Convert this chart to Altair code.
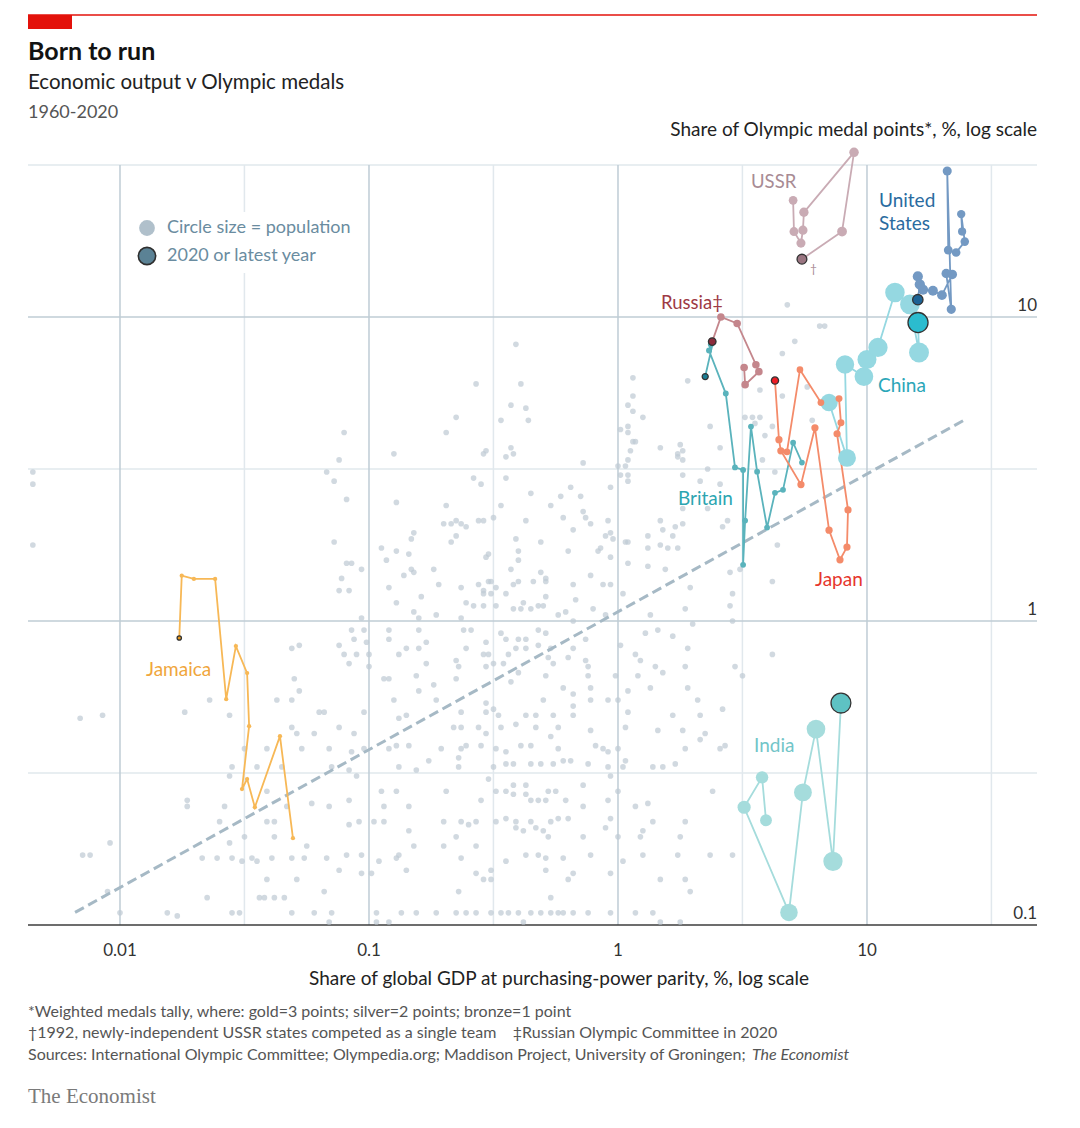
import altair as alt
import pandas as pd

# ---------------- background countries (log10 of % shares) ----------------
bg_far_left = [
    (-2.35, 0.49), (-2.35, 0.45), (-2.35, 0.25), (-2.16, -0.32), (-2.07, -0.31), (-1.64, -0.26), (-1.74, -0.30),
    (-1.56, -0.31), (-1.37, -0.26), (-1.31, -0.26), (-1.30, -0.19), (-1.31, -0.09), (-1.28, -0.08), (-1.73, -0.59),
    (-1.73, -0.61), (-1.58, -0.61), (-1.60, -0.66), (-1.56, -0.51), (-1.55, -0.48), (-1.45, -0.48), (-1.41, -0.42),
    (-1.50, -0.42), (-1.35, -0.48), (-1.31, -0.35), (-1.29, -0.37), (-1.50, -0.71), (-1.56, -0.73), (-1.38, -0.71),
    (-1.41, -0.66), (-1.38, -0.66), (-1.41, -0.56), (-1.33, -0.61), (-2.04, -0.73), (-2.15, -0.77), (-2.12, -0.77),
    (-1.67, -0.78), (-1.61, -0.78), (-1.55, -0.78), (-1.51, -0.79), (-1.47, -0.78), (-1.45, -0.79), (-1.39, -0.78),
    (-1.31, -0.78), (-1.41, -0.85), (-1.29, -0.85), (-2.05, -0.89), (-1.65, -0.91), (-1.44, -0.91), (-1.42, -0.91),
    (-1.38, -0.91), (-1.34, -0.91), (-1.81, -0.96), (-1.77, -0.97), (-2.00, -0.96), (-1.55, -0.96), (-1.52, -0.96),
    (-1.31, -0.96),
]
bg_left_upper = [
    (-1.10, 0.62), (-1.12, 0.53), (-1.17, 0.49), (-1.14, 0.46), (-1.09, 0.40), (-1.14, 0.26), (-1.09, 0.19),
    (-1.07, 0.19), (-1.03, 0.17), (-1.11, 0.14), (-1.12, 0.10), (-1.08, 0.10),
]
bg_mid_upper = [
    (-0.41, 0.91), (-0.57, 0.78), (-0.39, 0.78), (-0.43, 0.71), (-0.37, 0.70), (-0.65, 0.67), (-0.47, 0.66),
    (-0.36, 0.66), (-0.69, 0.62), (-0.90, 0.55), (-0.54, 0.55), (-0.53, 0.56), (-0.43, 0.57), (-0.42, 0.55),
    (-0.45, 0.54), (-0.14, 0.52), (0.06, 0.80), (0.06, 0.74), (0.04, 0.71), (0.06, 0.69), (0.10, 0.67),
    (0.01, 0.63), (0.04, 0.64), (0.04, 0.62), (0.06, 0.59), (0.07, 0.59), (0.05, 0.56), (0.04, 0.53),
    (0.00, 0.51), (0.03, 0.51), (0.01, 0.48), (0.04, 0.48), (0.04, 0.46), (0.17, 0.57), (0.24, 0.55),
    (0.24, 0.54), (-0.58, 0.47), (-0.55, 0.45), (-0.45, 0.47), (-0.35, 0.42), (-0.19, 0.44), (-0.03, 0.44),
    (-0.89, 0.39), (-0.69, 0.38), (-0.47, 0.38), (-0.27, 0.38), (-0.23, 0.41), (-0.15, 0.41), (-0.70, 0.32),
    (-0.67, 0.32), (-0.65, 0.33), (-0.63, 0.32), (-0.61, 0.31), (-0.56, 0.33), (-0.54, 0.33), (-0.50, 0.34),
    (-0.37, 0.33), (-0.22, 0.34), (-0.14, 0.36), (-0.13, 0.34), (-0.11, 0.32), (-0.04, 0.33), (-0.18, 0.30),
    (-0.03, 0.29), (-0.02, 0.27), (-0.05, 0.28), (-0.82, 0.29), (-0.83, 0.27), (-0.65, 0.28), (-0.67, 0.26),
    (-0.41, 0.27), (-0.31, 0.26), (-0.08, 0.23), (-0.07, 0.24), (0.03, 0.26), (0.04, 0.26), (-0.95, 0.24),
    (-0.89, 0.23), (-0.84, 0.22), (-0.93, 0.20), (-0.53, 0.21), (-0.52, 0.22), (-0.40, 0.23), (-0.20, 0.23),
    (-0.03, 0.21), (-0.40, 0.20), (-0.43, 0.17), (0.04, 0.19), (0.12, 0.28), (0.12, 0.24), (0.18, 0.30),
    (0.17, 0.33), (0.23, 0.31), (0.22, 0.28), (0.17, 0.25), (0.20, 0.24), (0.24, 0.24), (0.12, 0.18),
    (0.19, 0.17), (-0.83, 0.17), (-0.82, 0.16), (-0.86, 0.15), (-0.74, 0.17), (-0.31, 0.16), (-0.29, 0.14),
    (-0.29, 0.13), (-0.11, 0.15), (-0.72, 0.12), (-0.56, 0.12), (-0.63, 0.11), (-0.52, 0.13), (-0.51, 0.13),
    (-0.42, 0.12), (-0.40, 0.13), (-0.34, 0.13), (-0.18, 0.12), (-0.06, 0.12), (-0.03, 0.12), (-0.92, 0.11),
    (-0.49, 0.11), (-0.54, 0.10), (-0.54, 0.09), (-0.51, 0.09), (-0.45, 0.09), (-0.79, 0.08), (0.02, 0.09),
    (-0.29, 0.08),
]
bg_right_upper = [
    (0.68, 1.04), (0.81, 0.97), (0.83, 0.97), (0.71, 0.92), (0.66, 0.88), (0.57, 0.76), (0.66, 0.74),
    (0.76, 0.77), (0.28, 0.79), (0.37, 0.64), (0.51, 0.67), (0.54, 0.67), (0.57, 0.67), (0.55, 0.65),
    (0.62, 0.64), (0.59, 0.61), (0.78, 0.66), (0.25, 0.58), (0.26, 0.56), (0.26, 0.53), (0.36, 0.50),
    (0.41, 0.57), (0.58, 0.53), (0.63, 0.49), (0.33, 0.46), (0.41, 0.45), (0.26, 0.48), (0.26, 0.37),
    (0.36, 0.37), (0.44, 0.33), (0.42, 0.31), (0.26, 0.32), (0.64, 0.25), (0.45, 0.16), (0.49, 0.17),
    (0.62, 0.13), (0.29, 0.11), (0.46, 0.09),
]
bg_mid_lower = [
    (-0.89, 0.06), (-0.61, 0.06), (-0.58, 0.05), (-0.54, 0.05), (-0.49, 0.05), (-1.03, 0.01), (-0.82, 0.03),
    (-0.80, 0.01), (-0.73, 0.02), (-0.63, 0.01), (-0.42, 0.04), (-0.39, 0.04), (-0.38, 0.06), (-0.35, 0.04),
    (-0.32, 0.05), (-0.30, 0.05), (-0.24, 0.02), (-1.07, -0.03), (-1.02, -0.03), (-0.92, -0.03), (-0.80, -0.03),
    (-0.62, -0.03), (-0.59, -0.03), (-0.47, -0.04), (-0.45, -0.06), (-0.40, -0.06), (-0.37, -0.06), (-0.32, -0.03),
    (-0.29, -0.04), (-1.01, -0.07), (-1.06, -0.06), (-0.92, -0.06), (-0.77, -0.07), (-0.32, -0.08), (-0.27, -0.09),
    (-0.53, -0.07), (-1.12, -0.08), (-1.10, -0.11), (-1.05, -0.11), (-1.00, -0.11), (-1.08, -0.14), (-1.00, -0.15),
    (-0.88, -0.11), (-0.85, -0.09), (-0.80, -0.09), (-0.77, -0.14), (-0.65, -0.13), (-0.64, -0.15), (-0.61, -0.09),
    (-0.54, -0.11), (-0.52, -0.11), (-0.50, -0.14), (-0.53, -0.15), (-0.46, -0.14), (-0.44, -0.11), (-0.41, -0.09),
    (-0.37, -0.09), (-0.28, -0.12), (-0.26, -0.14), (-1.28, -0.23), (-0.92, -0.19), (-0.94, -0.19), (-0.81, -0.18),
    (-0.80, -0.23), (-0.74, -0.21), (-0.65, -0.19), (-0.40, -0.17), (-0.43, -0.20), (-0.29, -0.18), (-0.73, -0.26),
    (-0.90, -0.26), (-0.88, -0.32), (-0.85, -0.31), (-0.53, -0.27), (-0.50, -0.29), (-0.63, -0.30), (-0.53, -0.30),
    (-0.48, -0.31), (-0.37, -0.31), (-0.33, -0.31), (-0.30, -0.26), (-0.26, -0.31), (-1.20, -0.30), (-1.18, -0.30),
    (-1.02, -0.30), (-1.12, -0.35), (-1.06, -0.37), (-1.22, -0.37), (-0.66, -0.35), (-0.63, -0.35), (-0.56, -0.35),
    (-0.53, -0.37), (-0.47, -0.35), (-0.41, -0.34), (-0.33, -0.35), (-0.27, -0.38), (-0.24, -0.35), (-1.27, -0.42),
    (-1.16, -0.42), (-1.07, -0.43), (-1.02, -0.42), (-0.92, -0.42), (-0.89, -0.41), (-0.84, -0.41), (-0.71, -0.42),
    (-0.63, -0.42), (-0.61, -0.41), (-0.55, -0.41), (-0.49, -0.42), (-0.45, -0.43), (-0.39, -0.41), (-0.35, -0.41),
    (-0.24, -0.42), (-1.15, -0.48), (-1.08, -0.49), (-0.88, -0.48), (-0.81, -0.49), (-0.76, -0.46), (-0.64, -0.45),
    (-0.64, -0.48), (-0.50, -0.48), (-0.45, -0.47), (-0.42, -0.47), (-0.35, -0.47), (-0.31, -0.47), (-0.26, -0.47),
    (-1.05, -0.51), (-0.95, -0.56), (-0.89, -0.56), (-0.69, -0.56), (-0.52, -0.52), (-0.55, -0.59), (-0.49, -0.56),
    (-0.45, -0.56), (-0.42, -0.54), (-0.37, -0.54), (-0.42, -0.57), (-0.37, -0.57), (-0.35, -0.59), (-0.32, -0.59),
    (-0.29, -0.59), (-0.28, -0.56), (-0.25, -0.56), (-1.08, -0.59), (-1.16, -0.61), (-1.23, -0.60), (-0.94, -0.61),
    (-0.84, -0.61), (-1.08, -0.67), (-1.04, -0.66), (-0.98, -0.66), (-0.94, -0.66), (-0.70, -0.66), (-0.63, -0.66),
    (-0.60, -0.67), (-0.57, -0.66), (-0.49, -0.66), (-0.45, -0.65), (-0.41, -0.66), (-0.41, -0.68), (-0.38, -0.69),
    (-0.35, -0.66), (-0.33, -0.68), (-0.30, -0.69), (-0.27, -0.66), (-0.24, -0.65), (-0.28, -0.71), (-0.84, -0.69),
    (-0.65, -0.71), (-0.82, -0.74), (-0.70, -0.74), (-0.57, -0.74), (-1.25, -0.74), (-1.17, -0.78), (-1.26, -0.78),
    (-1.12, -0.82), (-1.09, -0.77), (-1.03, -0.77), (-1.03, -0.83), (-0.99, -0.83), (-0.96, -0.79), (-0.89, -0.78),
    (-0.88, -0.77), (-0.85, -0.82), (-0.63, -0.78), (-0.57, -0.83), (-0.54, -0.85), (-0.51, -0.85), (-0.51, -0.82),
    (-0.45, -0.79), (-0.37, -0.77), (-0.32, -0.77), (-0.29, -0.78), (-0.29, -0.82), (-1.18, -0.89), (-1.22, -0.96),
    (-1.15, -0.96), (-0.97, -0.96), (-0.92, -0.99), (-0.97, -0.99), (-0.87, -0.96), (-0.81, -0.96), (-0.73, -0.96),
    (-0.65, -0.96), (-0.64, -0.89), (-0.61, -0.96), (-0.57, -0.96), (-0.51, -0.96), (-0.47, -0.96), (-0.44, -0.96),
    (-0.40, -0.96), (-0.38, -0.99), (-0.35, -0.96), (-0.31, -0.96), (-0.27, -0.96), (-0.27, -0.91), (-0.24, -0.96),
    (-1.16, -0.99),
]
bg_right_lower = [
    (-0.17, 0.07), (-0.10, 0.04), (-0.21, 0.03), (-0.05, 0.02), (0.13, 0.02), (0.27, 0.04), (0.45, 0.05),
    (0.30, -0.01), (0.46, 0.00), (-0.18, 0.00), (0.11, -0.04), (0.16, -0.03), (0.22, -0.05), (0.28, -0.09),
    (0.07, -0.11), (0.09, -0.13), (0.01, -0.08), (-0.13, -0.06), (-0.18, -0.09), (-0.20, -0.12), (-0.13, -0.13),
    (-0.12, -0.15), (-0.12, -0.18), (-0.01, -0.18), (0.08, -0.18), (0.15, -0.15), (0.18, -0.17), (0.27, -0.15),
    (0.47, -0.15), (0.50, -0.18), (0.13, -0.22), (0.28, -0.22), (0.04, -0.23), (-0.11, -0.22), (-0.18, -0.24),
    (-0.22, -0.22), (-0.11, -0.26), (-0.04, -0.26), (0.00, -0.26), (0.32, -0.26), (0.42, -0.29), (-0.18, -0.28),
    (-0.18, -0.31), (0.04, -0.30), (0.22, -0.31), (0.33, -0.31), (-0.11, -0.36), (0.03, -0.35), (0.16, -0.36),
    (0.26, -0.36), (0.35, -0.37), (0.33, -0.39), (-0.09, -0.41), (-0.06, -0.42), (-0.04, -0.43), (0.00, -0.42),
    (0.03, -0.46), (0.27, -0.42), (0.41, -0.42), (0.43, -0.41), (-0.19, -0.46), (-0.22, -0.46), (-0.12, -0.47),
    (-0.04, -0.48), (0.02, -0.48), (0.14, -0.48), (0.18, -0.48), (0.23, -0.47), (-0.03, -0.51), (-0.14, -0.54),
    (0.00, -0.56), (-0.21, -0.59), (-0.14, -0.61), (-0.04, -0.59), (0.07, -0.61), (0.12, -0.60), (0.38, -0.56),
    (-0.20, -0.65), (-0.03, -0.65), (0.14, -0.66), (0.27, -0.66), (-0.05, -0.68), (0.09, -0.71), (0.10, -0.69),
    (0.25, -0.71), (-0.14, -0.71), (0.00, -0.71), (-0.22, -0.78), (-0.11, -0.77), (0.02, -0.79), (0.10, -0.77),
    (0.24, -0.77), (0.37, -0.77), (0.46, -0.77), (-0.18, -0.83), (-0.03, -0.83), (-0.20, -0.85), (0.17, -0.85),
    (0.27, -0.85), (0.29, -0.89), (-0.22, -0.96), (-0.18, -0.96), (-0.12, -0.96), (-0.03, -0.96), (0.07, -0.96),
    (0.14, -0.96), (0.17, -0.99), (0.25, -0.99), (0.62, -0.11),
]

# ---------------- highlighted countries (% share of world GDP, % share of medal points, population m) ----------------
ussr_gdp = [5.05, 5.09, 5.43, 5.53, 5.58, 8.87, 7.94, 5.48]
ussr_medal = [24.2, 19.1, 17.5, 19.3, 22.1, 34.8, 19.1, 15.5]
ussr_pop = [214, 228, 238, 246, 256, 265, 284, 288]

us_gdp = [24.1, 23.9, 24.7, 22.8, 21.2, 21.0, 21.8, 20.8, 22.0, 20.0, 18.4, 16.8, 16.0, 16.3, 16.0]
us_medal = [19.1, 21.8, 17.7, 16.3, 16.6, 30.2, 10.6, 13.9, 13.8, 11.8, 12.2, 12.3, 13.6, 12.8, 11.4]
us_pop = [180, 191, 200, 209, 218, 236, 245, 256, 269, 282, 293, 304, 314, 323, 331]

china_gdp = [7.04, 8.31, 8.16, 9.72, 10.0, 11.07, 12.95, 14.88, 16.18, 16.03]
china_medal = [5.23, 3.44, 6.98, 6.37, 7.25, 7.94, 12.04, 11.0, 7.64, 9.59]
china_pop = [1050, 1110, 1170, 1220, 1260, 1300, 1330, 1360, 1390, 1410]

russia_gdp = [3.21, 3.24, 3.68, 3.58, 3.01, 2.59, 2.39]
russia_medal = [6.82, 5.99, 6.61, 6.97, 9.52, 10.0, 8.30]
russia_pop = [148, 146, 144, 142, 143, 144, 146]

britain_gdp = [5.48, 5.05, 4.60, 4.27, 3.97, 3.62, 3.42, 3.24, 3.18, 3.18, 2.95, 2.71, 2.32, 2.36, 2.41, 2.24]
britain_medal = [3.32, 3.86, 2.70, 2.64, 2.03, 3.10, 4.36, 2.14, 1.53, 3.14, 3.20, 5.60, 7.76, 8.12, 8.30, 6.37]
britain_pop = [52, 54, 55, 56, 56, 56, 57, 57, 58, 58, 59, 60, 62, 63, 65, 67]

japan_gdp = [4.77, 5.38, 6.53, 7.72, 7.86, 7.58, 8.39, 8.31, 7.79, 7.04, 6.18, 5.43, 4.51, 4.43, 4.27]
japan_medal = [3.60, 6.71, 5.23, 5.39, 4.49, 4.13, 2.32, 1.75, 1.59, 1.99, 4.32, 2.81, 3.63, 3.95, 6.18]
japan_pop = [94, 97, 101, 107, 112, 120, 123, 124, 126, 127, 128, 128, 128, 127, 126]

india_gdp = [3.93, 3.79, 3.21, 4.86, 5.53, 6.24, 7.30, 7.86]
india_medal = [0.221, 0.306, 0.244, 0.110, 0.273, 0.441, 0.162, 0.537]
india_pop = [450, 500, 570, 1060, 1100, 1210, 1300, 1380]

jamaica_gdp = [0.0495, 0.0439, 0.0348, 0.0324, 0.0309, 0.0330, 0.0324, 0.0292, 0.0267, 0.0241, 0.0198, 0.0177, 0.0173]
jamaica_medal = [0.193, 0.418, 0.244, 0.302, 0.280, 0.451, 0.674, 0.827, 0.553, 1.375, 1.375, 1.41, 0.879]
jamaica_pop = [1.9, 2.0, 2.1, 2.2, 2.3, 2.4, 2.5, 2.6, 2.6, 2.7, 2.7, 2.8, 2.8]

country_names = ["USSR", "United States", "China", "Russia", "Britain", "Japan", "India", "Jamaica"]
point_colors = ["#c9abb4", "#7399c3", "#95d8e1", "#c4868c", "#5ab3bc", "#f48b6a", "#a5dcdc", "#f7b856"]
latest_colors = ["#9a7581", "#1c6395", "#2bbccf", "#8b2b3b", "#1b7e95", "#ee1d25", "#5ec2c3", "#e6991d"]

trend_gdp = [0.0066, 24.8]
trend_medal = [0.11, 4.6]

grid_major_x = [0.01, 0.1, 1, 10]
grid_minor_x = [0.0316, 0.316, 3.16, 31.6]
grid_major_y = [1, 10]
grid_minor_y = [0.316, 3.16, 31.6]
x_tick_values = [0.01, 0.1, 1, 10]
x_tick_text = ["0.01", "0.1", "1", "10"]
y_tick_values = [0.1, 1, 10]
y_tick_text = ["0.1", "1", "10"]

# ---------------- build frames ----------------
bg_pairs = bg_far_left + bg_left_upper + bg_mid_upper + bg_right_upper + bg_mid_lower + bg_right_lower
bg = pd.DataFrame(bg_pairs, columns=["lg", "lm"])
bg["gdp"] = 10 ** bg["lg"]
bg["medal"] = 10 ** bg["lm"]

series = [
    ("USSR", ussr_gdp, ussr_medal, ussr_pop),
    ("United States", us_gdp, us_medal, us_pop),
    ("China", china_gdp, china_medal, china_pop),
    ("Russia", russia_gdp, russia_medal, russia_pop),
    ("Britain", britain_gdp, britain_medal, britain_pop),
    ("Japan", japan_gdp, japan_medal, japan_pop),
    ("India", india_gdp, india_medal, india_pop),
    ("Jamaica", jamaica_gdp, jamaica_medal, jamaica_pop),
]
frames = []
for name, g, m, p in series:
    n = len(g)
    frames.append(pd.DataFrame({"country": name, "gdp": g, "medal": m, "pop": p,
                                "order": list(range(n)), "latest": [i == n - 1 for i in range(n)]}))
cdf = pd.concat(frames, ignore_index=True)

W, H = 1009, 760
xs = alt.Scale(type="log", domain=[0.004271, 48.17], nice=False)
ys = alt.Scale(type="log", domain=[0.1, 31.623], nice=False)
X = lambda f: alt.X(f, type="quantitative", scale=xs, axis=None)
Y = lambda f: alt.Y(f, type="quantitative", scale=ys, axis=None)

FONT = "Lato"
one = pd.DataFrame({"k": [0]})


def txt(text, x, y, size=17, color="#333333", weight="normal", align="left",
        baseline="alphabetic", font=FONT, style="normal"):
    return alt.Chart(pd.DataFrame({"t": [text]})).mark_text(
        align=align, baseline=baseline, font=font, fontSize=size, fontWeight=weight,
        fontStyle=style, color=color
    ).encode(text="t:N", x=alt.value(x), y=alt.value(y))


layers = []
# grid
layers.append(alt.Chart(pd.DataFrame({"v": grid_minor_x})).mark_rule(color="#e1e8ed", strokeWidth=1.5).encode(x=X("v")))
layers.append(alt.Chart(pd.DataFrame({"v": grid_minor_y})).mark_rule(color="#e1e8ed", strokeWidth=1.5).encode(y=Y("v")))
layers.append(alt.Chart(pd.DataFrame({"v": grid_major_x})).mark_rule(color="#bfccd5", strokeWidth=1.5).encode(x=X("v")))
layers.append(alt.Chart(pd.DataFrame({"v": grid_major_y})).mark_rule(color="#bfccd5", strokeWidth=1.5).encode(y=Y("v")))
# bottom axis line
layers.append(alt.Chart(one).mark_rule(color="#3c3c3c", strokeWidth=1.6).encode(
    x=alt.value(0), x2=alt.value(W), y=alt.value(H)))
# legend background (white box interrupting the grid)
layers.append(alt.Chart(one).mark_rect(color="white").encode(
    x=alt.value(129), x2=alt.value(331), y=alt.value(47), y2=alt.value(108)))
# background dots
layers.append(alt.Chart(bg).mark_circle(size=32, color="#bfcbd4", opacity=0.72).encode(x=X("gdp"), y=Y("medal")))
# trend line
layers.append(alt.Chart(pd.DataFrame({"gdp": trend_gdp, "medal": trend_medal})).mark_line(
    color="#a6b9c5", strokeWidth=3, strokeDash=[10, 5]).encode(x=X("gdp"), y=Y("medal")))
# country lines and points
cscale = alt.Scale(domain=country_names, range=point_colors)
lscale = alt.Scale(domain=country_names, range=latest_colors)
sscale = alt.Scale(domain=[0, 1400], range=[18, 400])
layers.append(alt.Chart(cdf).mark_line(strokeWidth=1.8).encode(
    x=X("gdp"), y=Y("medal"), color=alt.Color("country:N", scale=cscale, legend=None), order="order:Q"))
layers.append(alt.Chart(cdf).transform_filter("!datum.latest").mark_circle(opacity=1).encode(
    x=X("gdp"), y=Y("medal"), color=alt.Color("country:N", scale=cscale, legend=None),
    size=alt.Size("pop:Q", scale=sscale, legend=None)))
layers.append(alt.Chart(cdf).transform_filter("datum.latest").mark_circle(
    opacity=1, stroke="#333333", strokeWidth=1.3).encode(
    x=X("gdp"), y=Y("medal"), fill=alt.Fill("country:N", scale=lscale, legend=None),
    size=alt.Size("pop:Q", scale=sscale, legend=None)))

# tick labels
layers.append(alt.Chart(pd.DataFrame({"v": x_tick_values, "t": x_tick_text})).mark_text(
    font=FONT, fontSize=17, color="#333333", align="center", baseline="alphabetic").encode(
    x=X("v"), y=alt.value(791), text="t:N"))
layers.append(alt.Chart(pd.DataFrame({"v": y_tick_values, "t": y_tick_text})).mark_text(
    font=FONT, fontSize=17, color="#333333", align="right", baseline="alphabetic", dy=-6).encode(
    y=Y("v"), x=alt.value(W), text="t:N"))

# legend
layers.append(alt.Chart(one).mark_circle(color="#b0c0cb", opacity=1).encode(
    x=alt.value(119), y=alt.value(63), size=alt.value(250)))
layers.append(alt.Chart(one).mark_circle(color="#5b8295", opacity=1, stroke="#2f2f2f", strokeWidth=1.6).encode(
    x=alt.value(119), y=alt.value(91), size=alt.value(300)))
layers.append(txt("Circle size = population", 139, 63, size=18, color="#6a8ca0", baseline="middle"))
layers.append(txt("2020 or latest year", 139, 91, size=18, color="#6a8ca0", baseline="middle"))

# country labels
layers.append(txt("USSR", 723, 17, size=18.5, color="#a88b94", baseline="middle"))
layers.append(txt("\u2020", 782, 104, size=12, color="#a88b94", baseline="middle"))
layers.append(txt("United", 851, 36, size=19, color="#2a6b9f", baseline="middle"))
layers.append(txt("States", 851, 59, size=19, color="#2a6b9f", baseline="middle"))
layers.append(txt("Russia\u2021", 633, 138, size=18.5, color="#9e3a45", baseline="middle"))
layers.append(txt("China", 850, 221, size=19, color="#2ba6b8", baseline="middle"))
layers.append(txt("Britain", 650, 334, size=19, color="#2ca5b1", baseline="middle"))
layers.append(txt("Japan", 787, 415, size=19, color="#e6362c", baseline="middle"))
layers.append(txt("India", 726, 581, size=19, color="#72c5c8", baseline="middle"))
layers.append(txt("Jamaica", 118, 505, size=19, color="#f0a63c", baseline="middle"))

# header
layers.append(alt.Chart(one).mark_rule(color="#e3120b", strokeWidth=1.6).encode(
    x=alt.value(0), x2=alt.value(W), y=alt.value(-150)))
layers.append(alt.Chart(one).mark_rect(color="#e3120b").encode(
    x=alt.value(0), x2=alt.value(44), y=alt.value(-150), y2=alt.value(-136)))
layers.append(txt("Born to run", 0, -105, size=25, color="#121212", weight="bold"))
layers.append(txt("Economic output v Olympic medals", 0, -76, size=20.5, color="#222222"))
layers.append(txt("1960-2020", 0, -47, size=18, color="#555555"))
layers.append(txt("Share of Olympic medal points*, %, log scale", W, -29, size=19, color="#222222", align="right"))

# x title and footer
layers.append(txt("Share of global GDP at purchasing-power parity, %, log scale", 531, 820, size=19,
                  color="#222222", align="center"))
layers.append(txt("*Weighted medals tally, where: gold=3 points; silver=2 points; bronze=1 point", 0, 852,
                  size=16, color="#555555"))
layers.append(txt("\u20201992, newly-independent USSR states competed as a single team\u00a0\u00a0\u00a0\u00a0"
                  "\u2021Russian Olympic Committee in 2020", 0, 873, size=16, color="#555555"))
layers.append(txt("Sources: International Olympic Committee; Olympedia.org; Maddison Project, University of Groningen;",
                  0, 895, size=16, color="#555555"))
layers.append(txt("The Economist", 724, 895, size=16, color="#555555", style="italic"))
layers.append(txt("The Economist", 0, 938, size=21, color="#7a7a7a", font="Liberation Serif"))

chart = alt.layer(*layers).properties(
    width=W, height=H,
    autosize=alt.AutoSizeParams(type="none"),
    padding={"left": 20, "top": 157, "right": 35, "bottom": 195},
).configure_view(stroke=None)

chart.save("out.html", embed_options={"renderer": "svg", "actions": False})
